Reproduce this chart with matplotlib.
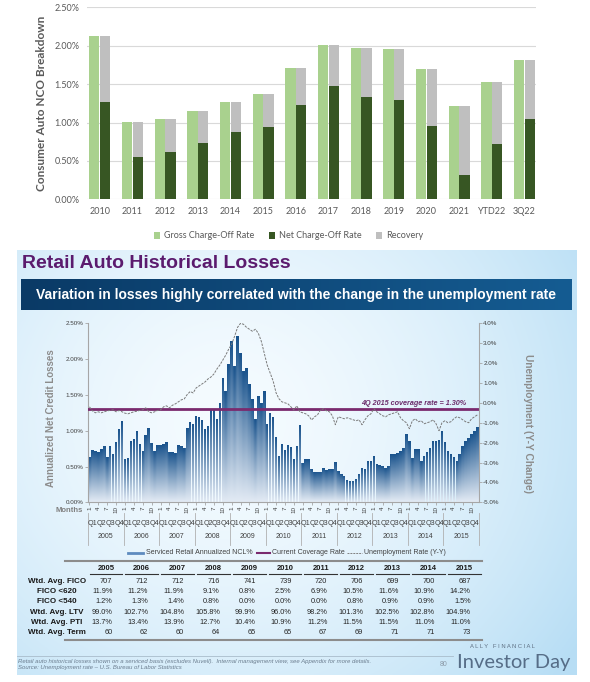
import numpy as np
import matplotlib
matplotlib.use('Agg')
import matplotlib.pyplot as plt
from matplotlib.colors import to_rgb
from matplotlib.lines import Line2D
from matplotlib.patches import PathPatch
from matplotlib.path import Path

plt.rcParams['font.family'] = ['Liberation Sans', 'DejaVu Sans']

W, H = 590, 682

# ---- top chart: consumer auto NCO breakdown ----
nco_labels = ['2010', '2011', '2012', '2013', '2014', '2015', '2016', '2017',
              '2018', '2019', '2020', '2021', 'YTD22', '3Q22']
gross_rate = [2.12, 1.01, 1.05, 1.155, 1.27, 1.37, 1.71, 2.01, 1.975, 1.96, 1.70, 1.215, 1.53, 1.81]
net_rate = [1.27, 0.556, 0.62, 0.73, 0.88, 0.946, 1.23, 1.48, 1.33, 1.29, 0.96, 0.31, 0.72, 1.04]
recovery = [0.85, 0.454, 0.43, 0.425, 0.39, 0.424, 0.48, 0.53, 0.645, 0.67, 0.74, 0.905, 0.81, 0.77]

# ---- bottom chart: retail auto historical losses, monthly 2005-2015 ----
years = [2005, 2006, 2007, 2008, 2009, 2010, 2011, 2012, 2013, 2014, 2015]
ncl_monthly = [
    0.63, 0.73, 0.72, 0.70, 0.74, 0.79, 0.63, 0.79, 0.67, 0.84, 1.02, 1.13,
    0.61, 0.62, 0.85, 0.88, 1.00, 0.81, 0.72, 0.94, 1.04, 0.83, 0.72, 0.80,
    0.80, 0.81, 0.84, 0.70, 0.70, 0.69, 0.80, 0.79, 0.76, 1.04, 1.12, 1.10,
    1.20, 1.19, 1.15, 1.02, 1.07, 1.30, 1.31, 1.17, 1.38, 1.74, 1.55, 1.93,
    2.25, 1.91, 2.32, 2.09, 1.84, 1.88, 1.65, 1.44, 1.17, 1.49, 1.38, 1.55,
    1.09, 1.25, 1.19, 0.91, 0.65, 0.82, 0.73, 0.80, 0.77, 0.60, 0.79, 1.08,
    0.55, 0.60, 0.60, 0.47, 0.42, 0.43, 0.43, 0.48, 0.45, 0.47, 0.46, 0.56,
    0.44, 0.40, 0.37, 0.31, 0.30, 0.30, 0.33, 0.40, 0.48, 0.46, 0.58, 0.57,
    0.64, 0.53, 0.52, 0.51, 0.48, 0.51, 0.67, 0.67, 0.69, 0.72, 0.76, 0.96,
    0.85, 0.62, 0.74, 0.74, 0.58, 0.65, 0.70, 0.76, 0.85, 0.86, 0.87, 0.99,
    0.84, 0.72, 0.67, 0.63, 0.58, 0.68, 0.78, 0.85, 0.90, 0.96, 0.99, 1.05,
]
unemp_yy = [
    -0.20, -0.40, -0.50, -0.45, -0.50, -0.45, -0.40, -0.38, -0.35, -0.45, -0.38, -0.45,
    -0.52, -0.55, -0.50, -0.45, -0.42, -0.38, -0.35, -0.25, -0.45, -0.50, -0.45, -0.38,
    -0.35, -0.20, -0.15, -0.25, -0.12, -0.05, 0.05, 0.15, 0.20, 0.42, 0.57, 0.50,
    0.75, 0.85, 0.95, 1.05, 1.20, 1.30, 1.45, 1.70, 1.90, 2.15, 2.40, 2.70,
    2.95, 3.35, 3.80, 4.00, 3.95, 3.80, 3.70, 3.60, 3.70, 3.50, 3.10, 2.50,
    1.90, 1.50, 1.10, 0.50, 0.20, 0.05, 0.00, -0.05, -0.20, -0.36, -0.15, -0.45,
    -0.50, -0.55, -0.65, -0.86, -0.70, -0.60, -0.35, -0.30, -0.40, -0.45, -0.65, -1.10,
    -0.70, -0.75, -0.80, -0.75, -0.80, -0.85, -0.90, -0.85, -1.10, -0.85, -0.65, -0.55,
    -0.30, -0.45, -0.55, -0.65, -0.70, -0.60, -0.55, -0.50, -0.45, -0.75, -0.90, -1.00,
    -1.30, -0.90, -0.80, -0.95, -0.90, -1.05, -1.00, -0.95, -0.85, -1.05, -1.40, -1.00,
    -0.90, -1.00, -0.95, -0.80, -0.70, -0.75, -0.85, -0.95, -1.00, -0.80, -0.70, -0.60,
]
coverage_rate = 1.30

# ---- table under the chart ----
row_labels = ['Wtd. Avg. FICO', 'FICO <620', 'FICO <540', 'Wtd. Avg. LTV', 'Wtd. Avg. PTI', 'Wtd. Avg. Term']
fico = [707, 712, 712, 716, 741, 739, 720, 706, 699, 700, 687]
fico_620 = [11.9, 11.2, 11.9, 9.1, 0.8, 2.5, 6.9, 10.5, 11.6, 10.9, 14.2]
fico_540 = [1.2, 1.3, 1.4, 0.8, 0.0, 0.0, 0.0, 0.8, 0.9, 0.9, 1.5]
ltv = [99.0, 102.7, 104.8, 105.8, 99.9, 96.0, 98.2, 101.3, 102.5, 102.8, 104.9]
pti = [13.7, 13.4, 13.9, 12.7, 10.4, 10.9, 11.2, 11.5, 11.5, 11.0, 11.0]
term = [60, 62, 60, 64, 65, 65, 67, 69, 71, 71, 73]


def box(x0, y0, x1, y1):
    return [x0 / W, 1 - y1 / H, (x1 - x0) / W, (y1 - y0) / H]


def fx(x):
    return x / W


def fy(y):
    return 1 - y / H


fig = plt.figure(figsize=(W / 100, H / 100), dpi=100)
fig.patch.set_facecolor('white')

# ================= top chart =================
top_font = 'Lato'
ax1 = fig.add_axes(box(87, 7.3, 536, 199.3))
x = np.arange(len(nco_labels))
bw = 0.315
ax1.bar(x - 0.165, gross_rate, bw, color='#A9D18E', label='Gross Charge-Off Rate', zorder=3)
ax1.bar(x + 0.165, net_rate, bw, color='#375623', label='Net Charge-Off Rate', zorder=3)
ax1.bar(x + 0.165, recovery, bw, bottom=net_rate, color='#BFBFBF', label='Recovery', zorder=3)
ax1.set_ylim(0, 2.5)
ax1.set_xlim(-0.39, 13.35)
ax1.set_yticks(np.arange(0, 2.51, 0.5))
ax1.yaxis.set_major_formatter(lambda v, p: f'{v:.2f}%')
ax1.set_xticks(x, nco_labels)
ax1.grid(axis='y', color='#D9D9D9', lw=0.8, zorder=0)
for s in ax1.spines.values():
    s.set_visible(False)
ax1.tick_params(length=0, colors='#595959', labelsize=6.5)
ax1.tick_params(axis='y', pad=5.5)
ax1.tick_params(axis='x', pad=5.5)
for lab in ax1.get_xticklabels() + ax1.get_yticklabels():
    lab.set_family(top_font)
fig.text(fx(42), fy(103.5), 'Consumer Auto NCO Breakdown', rotation=90, ha='center', va='center',
         fontsize=8.5, fontweight='bold', color='#595959', family=top_font)
ax1.legend(loc='center', bbox_to_anchor=((288.5 - 87) / 449, (199.3 - 236) / 192), ncol=3,
           frameon=False, handlelength=0.7, handleheight=0.7,
           columnspacing=1.6, handletextpad=0.4, labelcolor='#595959',
           prop={'family': top_font, 'size': 6.5})

# ================= bottom slide =================
ax_bg = fig.add_axes(box(17, 250, 577, 675))
gx = np.linspace(0, 1, 300)[None, :]
gy = np.linspace(0, 1, 200)[:, None]
d = np.sqrt(((gx - 0.38) / 0.75) ** 2 + ((gy - 0.4) / 0.95) ** 2)
wgt = np.clip(d, 0, 1) ** 1.6
c0 = np.array([0.96, 0.985, 1.0])
c1 = np.array([0.72, 0.87, 0.96])
ax_bg.imshow(c0 + (c1 - c0) * wgt[..., None], aspect='auto', extent=(0, 1, 0, 1))
ax_bg.axis('off')

fig.text(fx(22), fy(267.5), 'Retail Auto Historical Losses', fontsize=14, fontweight='bold',
         color='#5B1B6E', va='baseline')

ax_ban = fig.add_axes(box(21, 279, 572, 310))
bx = np.linspace(0, 1, 200)[None, :, None]
b0 = np.array(to_rgb('#0A3A66'))
b1 = np.array(to_rgb('#155C92'))
ax_ban.imshow(np.repeat(b0 + (b1 - b0) * bx, 10, axis=0), aspect='auto', extent=(0, 1, 0, 1))
ax_ban.axis('off')
fig.text(fx(296.5), fy(295), 'Variation in losses highly correlated with the change in the unemployment rate',
         ha='center', va='center', fontsize=10, fontweight='bold', color='white')

# ---- chart ----
ax3 = fig.add_axes(box(88, 323.3, 479, 502.3))
ax3.patch.set_alpha(0)
months = np.arange(len(ncl_monthly))
bars = ax3.bar(months, ncl_monthly, width=0.86, color='none', edgecolor='none')
ys = np.linspace(2.5, 0, 300)[:, None]
frac = np.clip(ys / np.array(ncl_monthly)[None, :], 0, 1) ** 1.05
top_c = np.array(to_rgb('#18528C'))
bot_c = np.array(to_rgb('#E2EAF4'))
im = ax3.imshow(bot_c + (top_c - bot_c) * frac[..., None],
                extent=(-0.5, len(months) - 0.5, 0, 2.5), aspect='auto', zorder=2)
paths = [b.get_path().transformed(b.get_patch_transform()) for b in bars]
clip = PathPatch(Path.make_compound_path(*paths), transform=ax3.transData, fc='none', ec='none')
ax3.add_patch(clip)
im.set_clip_path(clip)
ax3.axhline(coverage_rate, color='#7A2A6E', lw=2, zorder=4)
ax3.text(127.3, coverage_rate + 0.03, '4Q 2015 coverage rate = 1.30%', ha='right', va='bottom',
         fontsize=5.2, fontweight='bold', style='italic', color='#6B2C6B', zorder=6)
ax3.set_xlim(-0.5, len(months) - 0.5)
ax3.set_ylim(0, 2.5)
ax3.set_yticks(np.arange(0, 2.51, 0.5))
ax3.yaxis.set_major_formatter(lambda v, p: f'{v:.2f}%')
tick_pos = [12 * k + m for k in range(len(years)) for m in (0, 3, 6, 9)]
tick_lab = [str(m + 1) for k in range(len(years)) for m in (0, 3, 6, 9)]
ax3.set_xticks(tick_pos, tick_lab, rotation=90)
ax3.tick_params(axis='both', length=2, width=0.6, color='#A6A6A6', labelcolor='#404040',
                labelsize=4.5, pad=1)
for side in ('top', 'right'):
    ax3.spines[side].set_visible(False)
for side in ('left', 'bottom'):
    ax3.spines[side].set_color('#A6A6A6')
    ax3.spines[side].set_linewidth(0.8)

ax4 = ax3.twinx()
ax4.plot(months, unemp_yy, color='#7A7A7A', lw=0.7, ls=(0, (2.5, 1.2)), zorder=5)
ax4.set_ylim(-5, 4)
ax4.set_yticks(np.arange(-5, 4.1, 1))
ax4.yaxis.set_major_formatter(lambda v, p: f'{v:.1f}%')
ax4.tick_params(axis='y', length=2, width=0.6, color='#A6A6A6', labelcolor='#404040',
                labelsize=4.5, pad=1)
for side in ('top', 'left', 'bottom'):
    ax4.spines[side].set_visible(False)
ax4.spines['right'].set_color('#A6A6A6')
ax4.spines['right'].set_linewidth(0.8)

xt = ax3.get_xaxis_transform()
ax_h = 179.0
for k, yr in enumerate(years):
    for q in range(4):
        ax3.text(12 * k + 3 * q + 1, -(523.5 - 502.3) / ax_h, f'Q{q + 1}', transform=xt,
                 ha='center', va='center', fontsize=5.2, color='#404040')
    ax3.text(12 * k + 5.5, -(537 - 502.3) / ax_h, str(yr), transform=xt,
             ha='center', va='center', fontsize=5, color='#404040')
for k in range(len(years) + 1):
    ax3.plot([12 * k - 0.5] * 2, [-(513 - 502.3) / ax_h, -(545 - 502.3) / ax_h], transform=xt,
             clip_on=False, color='#B0B0B0', lw=0.6)

fig.text(fx(83), fy(510.5), 'Months', ha='right', va='center', fontsize=5.5,
         fontweight='bold', color='#7F7F7F')
fig.text(fx(51), fy(418), 'Annualized Net Credit Losses', rotation=90, ha='center', va='center',
         fontsize=7, fontweight='bold', color='#8C8C8C')
fig.text(fx(528), fy(423.5), 'Unemployment (Y-Y Change)', rotation=270, ha='center', va='center',
         fontsize=7.3, fontweight='bold', color='#8C8C8C')

# ---- legend under chart ----
leg_y = 553
leg_items = [
    (128, 143, 'Serviced Retail Annualized NCL%', dict(color='#5E8BBF', lw=2)),
    (257, 270, 'Current Coverage Rate', dict(color='#7A2A6E', lw=1.5)),
    (347, 362, 'Unemployment Rate (Y-Y)', dict(color='#808080', lw=0.7, ls=(0, (2, 1)))),
]
for x0, x1, txt, st in leg_items:
    fig.add_artist(Line2D([fx(x0), fx(x1)], [fy(leg_y), fy(leg_y)], transform=fig.transFigure, **st))
    fig.text(fx(x1 + 2.5), fy(leg_y), txt, ha='left', va='center', fontsize=5, color='#404040')

# ---- table ----
fig.add_artist(Line2D([fx(65), fx(482)], [fy(560.7)] * 2, transform=fig.transFigure,
                      color='#8C8C8C', lw=1.5))
fig.add_artist(Line2D([fx(65), fx(482)], [fy(639.5)] * 2, transform=fig.transFigure,
                      color='#8C8C8C', lw=1.5))
col_w = (482 - 88) / len(years)
rows = [fico, fico_620, fico_540, ltv, pti, term]
for k, yr in enumerate(years):
    c = 88 + col_w * (k + 0.5)
    fig.text(fx(c), fy(568), str(yr), ha='center', va='center', fontsize=5.5,
             fontweight='bold', color='#1A1A1A')
    fig.add_artist(Line2D([fx(88 + col_w * k + 1.5), fx(88 + col_w * (k + 1) - 1.5)], [fy(573.5)] * 2,
                          transform=fig.transFigure, color='#333333', lw=0.8))
    for r, vals in enumerate(rows):
        v = vals[k]
        s = str(v) if r in (0, 5) else f'{v:.1f}%'
        fig.text(fx(c + 6.5), fy(581.5 + 10.2 * r), s, ha='right', va='center',
                 fontsize=5.3, color='#262626')
for r, lab in enumerate(row_labels):
    fig.text(fx(57), fy(581.5 + 10.2 * r), lab, ha='center', va='center', fontsize=5.8,
             fontweight='bold', color='#1A1A1A')

# ---- footer ----
fig.add_artist(Line2D([fx(17), fx(453)], [fy(655.5)] * 2, transform=fig.transFigure,
                      color='#A9BCCB', lw=0.6))
fig.text(fx(18), fy(661.5), 'Retail auto historical losses shown on a serviced basis (excludes Nuvell).  '
         'Internal management view, see Appendix for more details.', ha='left', va='center',
         fontsize=4.3, style='italic', color='#6A7C8E')
fig.text(fx(18), fy(668), 'Source: Unemployment rate \u2013 U.S. Bureau of Labor Statistics', ha='left',
         va='center', fontsize=4.3, style='italic', color='#6A7C8E')
fig.text(fx(444), fy(664), '80', ha='center', va='center', fontsize=5, color='#8C9AA8')
fig.text(fx(470), fy(647), 'A L L Y   F I N A N C I A L', ha='left', va='center', fontsize=4.2,
         color='#5F7184')
fig.text(fx(457), fy(668), 'Investor Day', ha='left', va='baseline', fontsize=14.5,
         family=['Lato', 'DejaVu Sans'], color='#566D87')

fig.savefig('out.png', dpi=100)
